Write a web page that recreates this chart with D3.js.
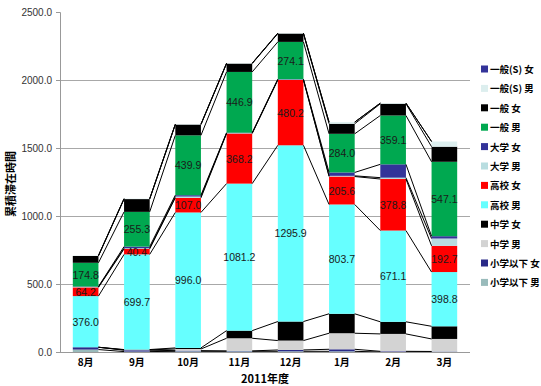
<!DOCTYPE html>
<html><head><meta charset="utf-8">
<script src="https://cdn.jsdelivr.net/npm/d3@7"></script>
<style>body{margin:0;background:#fff}svg{display:block}</style>
</head><body>
<svg id="c" width="541" height="386"></svg>
<script>
const months = ["8月","9月","10月","11月","12月","1月","2月","3月"];
const seriesNames = ["小学以下 男","小学以下 女","中学 男","中学 女","高校 男","高校 女","大学 男","大学 女","一般 男","一般 女","一般(S) 男","一般(S) 女"];
const s_shoM = [18, 3, 5, 5, 5, 5, 0, 2];
const s_shoF = [17, 10, 5, 3, 10, 15, 5, 2];
const s_chuM = [0, 3, 12, 93, 69, 118, 128, 92];
const s_chuF = [0, 2, 8, 56, 140, 143, 89, 93];
const s_koM = [376.0, 699.7, 996.0, 1081.2, 1295.9, 803.7, 671.1, 398.8];
const s_koF = [64.2, 40.4, 107.0, 368.2, 480.2, 205.6, 378.8, 192.7];
const s_daiM = [3, 5, 10, 3, 3, 5, 10, 54];
const s_daiF = [3, 12, 10, 3, 3, 25, 98, 17];
const s_ipM = [174.8, 255.3, 439.9, 446.9, 274.1, 284.0, 359.1, 547.1];
const s_ipF = [50, 94, 79, 61, 61, 74, 86, 111];
const s_ipSM = [3, 3, 3, 3, 3, 12, 5, 38];
const s_ipSF = [0, 0, 0, 0, 0, 0, 0, 0];
const yTicks = [0, 500, 1000, 1500, 2000, 2500];
const colors = ["#99bbbb","#2a2a88","#d3d3d3","#000000","#66ffff","#ff0000","#b8dde0","#333399","#00a850","#000000","#dceeee","#333399"];
const labeled = [4,5,8];

const values = [s_shoM,s_shoF,s_chuM,s_chuF,s_koM,s_koF,s_daiM,s_daiF,s_ipM,s_ipF,s_ipSM,s_ipSF];
const table = months.map((m,j)=>{const o={month:m}; seriesNames.forEach((n,i)=>o[n]=values[i][j]); return o;});
const stacked = d3.stack().keys(seriesNames)(table);

const svg = d3.select("#c");
const L=60, R=470, T=12, B=352;
const x = d3.scaleBand().domain(months).range([L,R]).paddingInner(0.5).paddingOuter(0.25);
const y = d3.scaleLinear().domain([0,2500]).range([B,T]);
const bw = x.bandwidth();

// gridlines
svg.append("g").selectAll("line").data(yTicks.filter(t=>t>0 && t<2500)).join("line")
  .attr("x1",L).attr("x2",R).attr("y1",d=>y(d)).attr("y2",d=>y(d))
  .attr("stroke","#a8a8a8").attr("stroke-width",1).attr("shape-rendering","crispEdges");

// bars
stacked.forEach((s,i)=>{
  svg.append("g").selectAll("rect").data(s).join("rect")
    .attr("x",d=>x(d.data.month)).attr("width",bw)
    .attr("y",d=>y(d[1])).attr("height",d=>Math.max(0,y(d[0])-y(d[1])))
    .attr("fill",colors[i]);
});

// series lines
const lg = svg.append("g");
stacked.forEach((s,i)=>{
  for(let j=0;j<s.length-1;j++){
    lg.append("line")
      .attr("x1",x(months[j])+bw).attr("y1",y(s[j][1]))
      .attr("x2",x(months[j+1])).attr("y2",y(s[j+1][1]))
      .attr("stroke","#000").attr("stroke-width",1);
  }
});

// value labels
labeled.forEach(i=>{
  svg.append("g").selectAll("text").data(stacked[i]).join("text")
    .attr("x",d=>x(d.data.month)+bw/2).attr("y",d=>(y(d[0])+y(d[1]))/2)
    .attr("text-anchor","middle").attr("dominant-baseline","central")
    .attr("font-family","Liberation Sans, Arial, sans-serif").attr("font-size",10.5)
    .attr("fill","#1a1a1a").text(d=>(d[1]-d[0]).toFixed(1));
});

// y axis
const ya = svg.append("g").attr("transform",`translate(${L},0)`)
  .call(d3.axisLeft(y).tickValues(yTicks).tickFormat(d3.format(".1f")).tickSize(4).tickPadding(4));
ya.select(".domain").attr("stroke","#999");
ya.selectAll(".tick line").attr("stroke","#999");
ya.selectAll("text").attr("font-family","Liberation Sans, Arial, sans-serif").attr("font-size",10).attr("fill","#333");

// x baseline
svg.append("line").attr("x1",L).attr("x2",R).attr("y1",B+0.5).attr("y2",B+0.5).attr("stroke","#999");

// x labels
const xa = svg.append("g").attr("transform",`translate(0,${B})`)
  .call(d3.axisBottom(x).tickSize(0).tickPadding(7));
xa.select(".domain").remove();
xa.selectAll("text").attr("font-family","Noto Sans CJK JP, sans-serif").attr("font-size",10).attr("font-weight","bold").attr("fill","#000");

svg.append("text").attr("x",(L+R)/2).attr("y",383).attr("text-anchor","middle")
  .attr("font-family","Noto Sans CJK JP, sans-serif").attr("font-size",11).attr("font-weight","bold").text("2011年度");

svg.append("text").attr("transform",`translate(15,184) rotate(-90)`).attr("text-anchor","middle")
  .attr("font-family","Noto Sans CJK JP, sans-serif").attr("font-size",11).attr("font-weight","bold").text("累積滞在時間");

// legend
const leg = svg.append("g");
const order = d3.range(seriesNames.length).reverse();
order.forEach((i,k)=>{
  const ly = 69 + k*19.4;
  leg.append("rect").attr("x",481).attr("y",ly-3.5).attr("width",7).attr("height",7).attr("fill",colors[i]);
  leg.append("text").attr("x",490).attr("y",ly).attr("dominant-baseline","central")
    .attr("font-family","Noto Sans CJK JP, sans-serif").attr("font-size",9.5).attr("font-weight","bold").text(seriesNames[i]);
});
</script>
</body></html>
